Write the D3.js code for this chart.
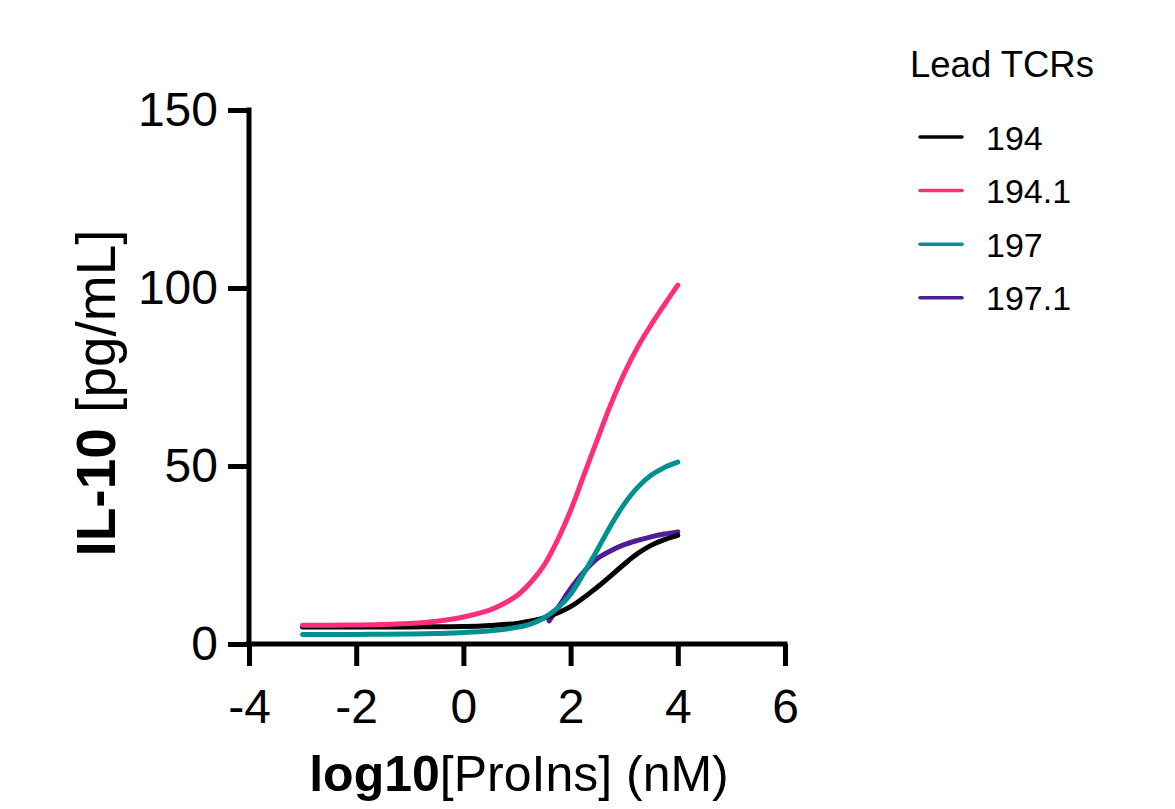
<!DOCTYPE html>
<html>
<head>
<meta charset="utf-8">
<script src="https://cdn.jsdelivr.net/npm/d3@7"></script>
<style>
  html, body { margin: 0; padding: 0; background: #fff; }
  svg { display: block; font-family: "Liberation Sans", Arial, sans-serif; }
</style>
</head>
<body>
<svg id="chart" width="1175" height="809"></svg>
<script>
// Fitted dose-response curves, IL-10 release vs log10 ProIns concentration
const seriesNames = ["194", "194.1", "197", "197.1"];
const seriesColors = ["#000000", "#ff2d7a", "#009190", "#4f1e96"];

const xs194 = [-3, -2.5, -2, -1.5, -1, -0.5, 0, 0.5, 1, 1.5, 2, 2.5, 3, 3.25, 3.5, 3.75, 4];
const ys194 = [4.8, 4.8, 4.8, 4.8, 4.8, 4.85, 4.9, 5.2, 5.8, 7.3, 10.5, 16, 22.4, 25.4, 27.7, 29.3, 30.5];

const xs1941 = [-3, -2.5, -2, -1.5, -1, -0.5, 0, 0.5, 0.75, 1, 1.25, 1.5, 1.75, 2, 2.25, 2.5, 2.75, 3, 3.25, 3.5, 3.75, 4];
const ys1941 = [5.3, 5.3, 5.35, 5.45, 5.75, 6.4, 7.6, 9.6, 11.3, 13.6, 17.2, 22, 29, 37.5, 47.5, 57.5, 67.3, 76, 83.4, 89.6, 95.3, 100.8];

const xs197 = [-3, -2.5, -2, -1.5, -1, -0.5, 0, 0.5, 1, 1.25, 1.5, 1.75, 2, 2.25, 2.5, 2.75, 3, 3.25, 3.5, 3.75, 4];
const ys197 = [2.7, 2.7, 2.7, 2.75, 2.8, 2.95, 3.2, 3.7, 4.7, 5.6, 7.3, 10, 14, 20, 26.5, 33.3, 39.3, 44, 47.4, 49.6, 51.1];

const xs1971 = [1.6, 1.8, 2, 2.25, 2.5, 2.75, 3, 3.25, 3.5, 3.75, 4];
const ys1971 = [6.5, 11, 15.5, 20.3, 24, 26.2, 27.9, 29.1, 30.1, 30.9, 31.5];

const xTicks = [-4, -2, 0, 2, 4, 6];
const yTicks = [0, 50, 100, 150];

const series = [
  { name: seriesNames[0], color: seriesColors[0], x: xs194, y: ys194 },
  { name: seriesNames[1], color: seriesColors[1], x: xs1941, y: ys1941 },
  { name: seriesNames[2], color: seriesColors[2], x: xs197, y: ys197 },
  { name: seriesNames[3], color: seriesColors[3], x: xs1971, y: ys1971 }
];

const svg = d3.select("#chart");
const x = d3.scaleLinear().domain([-4, 6]).range([249, 785]);
const y = d3.scaleLinear().domain([0, 150]).range([644, 110]);

const tickFont = 48;

// Curves (drawn beneath the axes)
const line = d3.line()
  .x(d => x(d[0]))
  .y(d => y(d[1]))
  .curve(d3.curveCatmullRom.alpha(0.5));

// Draw order: 197.1 under, then 194, 197, 194.1 on top
const drawOrder = [3, 0, 2, 1];
svg.append("g").selectAll("path")
  .data(drawOrder.map(i => series[i]))
  .join("path")
  .attr("d", s => line(s.x.map((v, i) => [v, s.y[i]])))
  .attr("fill", "none")
  .attr("stroke", s => s.color)
  .attr("stroke-width", 5)
  .attr("stroke-linecap", "round")
  .attr("stroke-linejoin", "round");

// Y axis
const yAxis = svg.append("g")
  .attr("transform", `translate(${x(-4)},0)`)
  .call(d3.axisLeft(y).tickValues(yTicks).tickSize(21).tickPadding(10).tickFormat(d3.format("d")));
// X axis
const xAxis = svg.append("g")
  .attr("transform", `translate(0,${y(0)})`)
  .call(d3.axisBottom(x).tickValues(xTicks).tickSize(22).tickPadding(23).tickFormat(d => d < 0 ? "-" + Math.abs(d) : String(d)));

[yAxis, xAxis].forEach(g => {
  g.select(".domain").attr("stroke", "#000").attr("stroke-width", 5).attr("stroke-linecap", "square");
  g.selectAll(".tick line").attr("stroke", "#000").attr("stroke-width", 5);
  g.selectAll(".tick text")
    .attr("fill", "#000")
    .style("font-family", "'Liberation Sans', Arial, sans-serif")
    .style("font-size", tickFont + "px");
});
// Plain axis lines without the outer tick stubs
yAxis.select(".domain").attr("d", `M0,${y(150)}V${y(0)}`);
xAxis.select(".domain").attr("d", `M${x(-4)},0H${x(6)}`);

// Axis titles
const xTitle = svg.append("text")
  .attr("x", 519)
  .attr("y", 791)
  .attr("text-anchor", "middle")
  .style("font-size", "50px")
  .attr("fill", "#000");
xTitle.append("tspan").attr("font-weight", "bold").text("log10");
xTitle.append("tspan").text("[ProIns] (nM)");

const yTitle = svg.append("text")
  .attr("transform", "translate(115,393) rotate(-90)")
  .attr("text-anchor", "middle")
  .style("font-size", "55px")
  .attr("fill", "#000");
yTitle.append("tspan").attr("font-weight", "bold").text("IL-10");
yTitle.append("tspan").text(" [pg/mL]");

// Legend
const legend = svg.append("g");
legend.append("text")
  .attr("x", 910)
  .attr("y", 77)
  .style("font-size", "36.5px")
  .attr("fill", "#000")
  .text("Lead TCRs");

const item = legend.selectAll("g.item")
  .data(series)
  .join("g")
  .attr("class", "item")
  .attr("transform", (d, i) => `translate(0,${137 + i * 53.6})`);
item.append("line")
  .attr("x1", 920).attr("x2", 962)
  .attr("y1", 0).attr("y2", 0)
  .attr("stroke", d => d.color)
  .attr("stroke-width", 3.5)
  .attr("stroke-linecap", "round");
item.append("text")
  .attr("x", 986)
  .attr("y", 12.5)
  .style("font-size", "34px")
  .attr("fill", "#000")
  .text(d => d.name);
</script>
</body>
</html>
